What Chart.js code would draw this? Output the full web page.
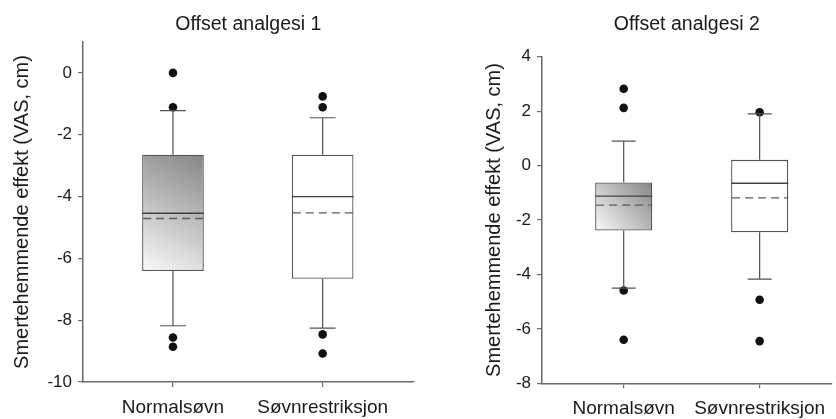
<!DOCTYPE html>
<html>
<head>
<meta charset="utf-8">
<script src="https://cdn.jsdelivr.net/npm/chart.js@4.4.1/dist/chart.umd.min.js"></script>
<style>
  html, body { margin: 0; padding: 0; background: #ffffff; }
  #wrap { position: relative; width: 836px; height: 419px; }
  .panel { position: absolute; top: 0; height: 419px; }
  #p1 { left: 0; width: 418px; }
  #p2 { left: 418px; width: 418px; }
</style>
</head>
<body>
<div id="wrap">
  <div class="panel" id="p1"><canvas id="c1"></canvas></div>
  <div class="panel" id="p2"><canvas id="c2"></canvas></div>
</div>
<script>
// ---- data ----
const categories = ['Normalsøvn', 'Søvnrestriksjon'];
const titles = ['Offset analgesi 1', 'Offset analgesi 2'];
const yAxisTitle = 'Smertehemmende effekt (VAS, cm)';

// Panel 1: Offset analgesi 1
const p1Q1 = [-6.41, -6.66];
const p1Median = [-4.54, -4.00];
const p1Q3 = [-2.65, -2.65];
const p1Mean = [-4.71, -4.53];
const p1WhiskerLow = [-8.18, -8.26];
const p1WhiskerHigh = [-1.22, -1.45];
const p1Outliers = [[0.0, -1.11, -8.56, -8.86], [-0.76, -1.11, -8.46, -9.08]];
const p1YTicks = [-10, -8, -6, -4, -2, 0];

// Panel 2: Offset analgesi 2
const p2Q1 = [-2.39, -2.45];
const p2Median = [-1.12, -0.65];
const p2Q3 = [-0.62, 0.21];
const p2Mean = [-1.45, -1.19];
const p2WhiskerLow = [-4.50, -4.17];
const p2WhiskerHigh = [0.90, 1.90];
const p2Outliers = [[2.82, 2.12, -4.59, -6.40], [1.96, -4.93, -6.45]];
const p2YTicks = [-8, -6, -4, -2, 0, 2, 4];

const FONT = "'Liberation Sans', Arial, sans-serif";
const TEXT = '#1a1a1a';
const AXIS = '#6a6a6a';

const boxPlugin = {
  id: 'boxExtras',
  afterDatasetsDraw(chart, args, s) {
    if (!s || !s.q1) return;
    const xs = chart.scales.x, ys = chart.scales.y;
    const ctx = chart.ctx;
    const unit = xs.getPixelForValue(2) - xs.getPixelForValue(1);
    const halfBox = unit * s.barPct / 2;
    const halfCap = halfBox * 0.42;
    ctx.save();
    for (let i = 0; i < categories.length; i++) {
      const cx = xs.getPixelForValue(i + 1);
      const yq1 = ys.getPixelForValue(s.q1[i]);
      const yq3 = ys.getPixelForValue(s.q3[i]);
      const ylo = ys.getPixelForValue(s.lo[i]);
      const yhi = ys.getPixelForValue(s.hi[i]);
      const ymed = ys.getPixelForValue(s.med[i]);
      const ymean = ys.getPixelForValue(s.mean[i]);
      ctx.strokeStyle = '#505050';
      ctx.lineWidth = 1.2;
      ctx.setLineDash([]);
      ctx.beginPath();
      ctx.moveTo(cx, yq3); ctx.lineTo(cx, yhi);
      ctx.moveTo(cx - halfCap, yhi); ctx.lineTo(cx + halfCap, yhi);
      ctx.moveTo(cx, yq1); ctx.lineTo(cx, ylo);
      ctx.moveTo(cx - halfCap, ylo); ctx.lineTo(cx + halfCap, ylo);
      ctx.stroke();
      ctx.strokeStyle = '#404040';
      ctx.lineWidth = 1.3;
      ctx.beginPath();
      ctx.moveTo(cx - halfBox, ymed); ctx.lineTo(cx + halfBox, ymed);
      ctx.stroke();
      ctx.strokeStyle = '#5a5a5a';
      ctx.lineWidth = 1.3;
      ctx.setLineDash([8, 5]);
      ctx.beginPath();
      ctx.moveTo(cx - halfBox + 1, ymean); ctx.lineTo(cx + halfBox, ymean);
      ctx.stroke();
    }
    ctx.restore();
  }
};

function makeChart(canvasId, cfg) {
  const boxData = categories.map((c, i) => ({ x: i + 1, y: [cfg.q1[i], cfg.q3[i]] }));
  const outData = [];
  cfg.out.forEach((arr, i) => arr.forEach(v => outData.push({ x: i + 1, y: v })));

  return new Chart(document.getElementById(canvasId), {
    data: {
      datasets: [
        {
          type: 'bar',
          data: boxData,
          backgroundColor: (c) => {
            if (c.dataIndex !== 0) return '#ffffff';
            const ch = c.chart;
            if (!ch.chartArea) return '#bbbbbb';
            const xs = ch.scales.x, ys = ch.scales.y;
            const d = c.dataset.data[c.dataIndex];
            const cx = xs.getPixelForValue(d.x);
            const hw = (xs.getPixelForValue(2) - xs.getPixelForValue(1)) * cfg.barPct / 2;
            const top = ys.getPixelForValue(d.y[1]);
            const bot = ys.getPixelForValue(d.y[0]);
            const g = ch.ctx.createLinearGradient(cx + hw, top, cx - hw, bot);
            g.addColorStop(0, '#858585');
            g.addColorStop(1, '#f9f9f9');
            return g;
          },
          borderColor: '#555555',
          borderWidth: 1.3,
          borderSkipped: false,
          barPercentage: cfg.barPct,
          categoryPercentage: 1.0,
          order: 2
        },
        {
          type: 'scatter',
          data: outData,
          pointRadius: 4.3,
          pointBackgroundColor: '#111111',
          pointBorderColor: '#111111',
          pointBorderWidth: 0,
          order: 1
        }
      ]
    },
    options: {
      responsive: true,
      maintainAspectRatio: false,
      animation: false,
      layout: { padding: { top: 13, left: 0, right: 0, bottom: 0 } },
      plugins: {
        legend: { display: false },
        tooltip: { enabled: false },
        boxExtras: { q1: cfg.q1, q3: cfg.q3, med: cfg.med, mean: cfg.mean, lo: cfg.lo, hi: cfg.hi, barPct: cfg.barPct },
        title: {
          display: true,
          text: cfg.title,
          fullSize: false,
          color: TEXT,
          font: { family: FONT, size: 19.5, weight: 'normal', lineHeight: 1.2 },
          padding: { top: 0, bottom: cfg.titleGap }
        }
      },
      scales: {
        x: {
          type: 'linear',
          min: cfg.xMin,
          max: cfg.xMax,
          offset: false,
          afterBuildTicks: (s) => { s.ticks = categories.map((c, i) => ({ value: i + 1 })); },
          afterFit: (s) => { s.height = cfg.xAxisH; },
          ticks: {
            autoSkip: false,
            maxRotation: 0,
            minRotation: 0,
            padding: 9,
            color: TEXT,
            font: { family: FONT, size: 19 },
            callback: (v) => categories[Math.round(v) - 1]
          },
          grid: { display: true, offset: false, drawOnChartArea: false, drawTicks: true, tickLength: 5, color: AXIS, lineWidth: 1.2 },
          border: { display: true, color: AXIS, width: 1.5 }
        },
        y: {
          type: 'linear',
          min: cfg.yMin,
          max: cfg.yMax,
          afterBuildTicks: (s) => { s.ticks = cfg.yTicks.map(v => ({ value: v })); },
          afterFit: (s) => { s.width = cfg.yAxisW; },
          ticks: {
            padding: 6,
            color: TEXT,
            font: { family: FONT, size: 17 }
          },
          grid: { display: true, drawOnChartArea: false, drawTicks: true, tickLength: 5, color: AXIS, lineWidth: 1.2 },
          border: { display: true, color: AXIS, width: 1.5 },
          title: {
            display: true,
            text: yAxisTitle,
            color: TEXT,
            font: { family: FONT, size: 20, lineHeight: 1.2 },
            padding: { top: cfg.yTitlePad, bottom: 0 }
          }
        }
      }
    },
    plugins: [boxPlugin]
  });
}

makeChart('c1', {
  title: titles[0], q1: p1Q1, q3: p1Q3, med: p1Median, mean: p1Mean, lo: p1WhiskerLow, hi: p1WhiskerHigh,
  out: p1Outliers, yTicks: p1YTicks, yMin: -10, yMax: 1,
  xMin: 0.399, xMax: 2.608, barPct: 0.412,
  titleGap: 5.6, xAxisH: 37, yAxisW: 83, yTitlePad: 10.5
});
makeChart('c2', {
  title: titles[1], q1: p2Q1, q3: p2Q3, med: p2Median, mean: p2Mean, lo: p2WhiskerLow, hi: p2WhiskerHigh,
  out: p2Outliers, yTicks: p2YTicks, yMin: -8, yMax: 4,
  xMin: 0.399, xMax: 2.53, barPct: 0.42,
  titleGap: 20.3, xAxisH: 35.7, yAxisW: 124, yTitlePad: 64.5
});
</script>
</body>
</html>
